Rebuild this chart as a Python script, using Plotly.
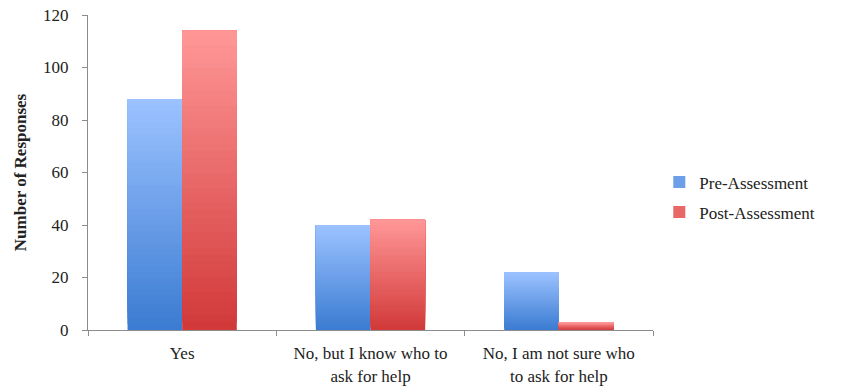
import plotly.graph_objects as go

categories = ["Yes", "No, but I know who to<br>ask for help", "No, I am not sure who<br>to ask for help"]
pre_values = [88, 40, 22]
post_values = [114, 42, 3]
y_ticks = [0, 20, 40, 60, 80, 100, 120]

FONT = "Liberation Serif"
N = 40
BAR_W = 0.29

series = [
    ("Pre-Assessment", pre_values, (155, 194, 255), (60, 124, 210), -BAR_W),
    ("Post-Assessment", post_values, (255, 150, 150), (210, 58, 58), 0.0),
]

fig = go.Figure()

for name, vals, top, bot, off in series:
    for k in range(N):
        t = k / (N - 1)
        c = tuple(round(bot[i] + (top[i] - bot[i]) * t) for i in range(3))
        col = "rgb(%d,%d,%d)" % c
        fig.add_trace(go.Bar(
            x=categories,
            y=[v * (N - k) / N for v in vals],
            base=[v * k / N for v in vals],
            width=BAR_W, offset=off,
            marker=dict(color=col, line=dict(width=0)),
            showlegend=False, hoverinfo="skip",
        ))
    mid = tuple(round((top[i] + bot[i]) / 2) for i in range(3))
    fig.add_trace(go.Bar(
        x=[None], y=[None], name=name,
        marker=dict(color="rgb(%d,%d,%d)" % mid, line=dict(width=0)),
        legendgroup=name, showlegend=True,
    ))

fig.update_layout(
    width=842, height=391,
    margin=dict(l=88, r=189, t=15, b=61),
    barmode="overlay",
    plot_bgcolor="white", paper_bgcolor="white",
    font=dict(family=FONT, size=17, color="#222222"),
    legend=dict(
        xref="container", yref="container",
        x=0.783, y=0.495, xanchor="left", yanchor="middle",
        font=dict(family=FONT, size=17, color="#222222"),
        tracegroupgap=5, traceorder="grouped",
        itemwidth=30,
    ),
    xaxis=dict(
        type="category", range=[-0.5, 2.5], automargin=False,
        showline=True, linecolor="#8c8c8c", linewidth=1,
        ticks="outside", tickson="boundaries", ticklen=5, tickcolor="#8c8c8c",
        showgrid=False, zeroline=False,
        ticklabelstandoff=8,
        tickfont=dict(family=FONT, size=17, color="#222222"),
    ),
    yaxis=dict(
        range=[0, 120], tickvals=y_ticks, automargin=False,
        showline=True, linecolor="#8c8c8c", linewidth=1,
        ticks="outside", ticklen=5, tickcolor="#8c8c8c",
        showgrid=False, zeroline=False,
        ticklabelstandoff=10,
        tickfont=dict(family=FONT, size=17, color="#222222"),
        title=dict(text="<b>Number of Responses</b>", standoff=12,
                   font=dict(family=FONT, size=17, color="#222222")),
    ),
)

fig.write_html("out.html")
